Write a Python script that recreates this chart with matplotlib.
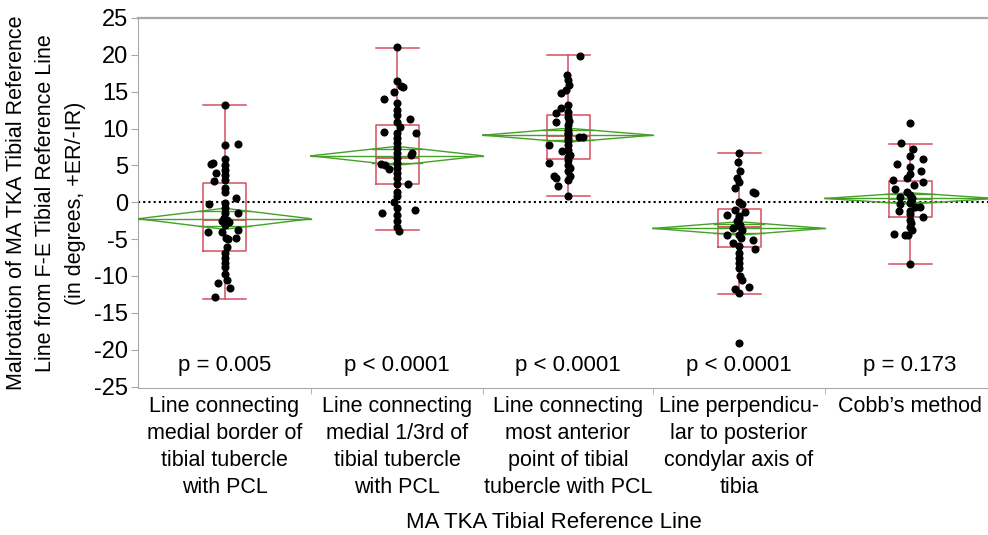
import matplotlib
matplotlib.use('Agg')
import matplotlib.pyplot as plt

plt.rcParams['font.family'] = ['Liberation Sans', 'DejaVu Sans']
plt.rcParams['axes.unicode_minus'] = False

# group labels along the x axis
groups = ["Line connecting\nmedial border of\ntibial tubercle\nwith PCL",
          "Line connecting\nmedial 1/3rd of\ntibial tubercle\nwith PCL",
          "Line connecting\nmost anterior\npoint of tibial\ntubercle with PCL",
          "Line perpendicu-\nlar to posterior\ncondylar axis of\ntibia",
          "Cobb\u2019s method"]
p_text = ["p = 0.005", "p < 0.0001", "p < 0.0001", "p < 0.0001", "p = 0.173"]

g1_vals = [13.2, 7.8, 7.9, 5.85, 5.2, 5.3, 5.1, 4.4, 3.95, 3.7, 2.9, 3.05, 1.9, 1.4, 0.55,
           -0.2, -0.1, -0.8, -1.4, -1.5, -2.2, -2.4, -2.6, -2.7, -3.05, -3.7, -4.0, -4.1,
           -4.8, -4.9, -4.95, -6.1, -6.9, -7.6, -8.2, -8.8, -9.8, -10.5, -10.9, -11.7, -12.9]
g1_dx = [0, 0, 13, 0, -14, -12, 0, 0, -9, 0, -11, 0, 0, 0, 11, -16, 0, 0, 13, 0, -1, 2, -3,
         4, 0, 13, -17, -3, 1, 11, 3, 2, 0, 0, 0, 0, 0, 2, -7, 5, -10]
g2_vals = [21.0, 16.5, 15.8, 15.6, 14.9, 14.0, 13.5, 12.5, 11.85, 11.3, 10.95, 10.2, 9.6, 9.4,
           9.45, 8.7, 8.0, 7.3, 6.65, 6.7, 6.45, 6.0, 5.2, 5.0, 4.5, 5.3, 4.6, 3.95, 3.3, 2.45,
           2.45, 1.45, 0.8, 0.1, -1.45, -1.0, -0.8, -1.7, -2.6, -3.3, -3.85]
g2_dx = [0, 0, 4, 6, -3, -13, 0, 0, 0, 13, 0, 3, -13, 19, 0, 0, 0, 0, 0, 15, 14, 0, -16, -12,
         -8, 0, 0, 0, 0, 0, 11, 0, 0, -3, -15, 18, 0, 0, 0, 0, 2]
g3_vals = [19.9, 17.2, 16.6, 15.9, 15.25, 14.8, 13.2, 12.85, 12.1, 12.3, 11.6, 11.0, 10.85,
           10.5, 9.8, 9.4, 9.2, 8.9, 8.9, 8.7, 8.3, 7.8, 7.8, 7.1, 6.9, 6.4, 6.1, 5.75, 5.3,
           5.1, 4.6, 4.2, 3.6, 3.3, 3.5, 3.05, 2.15, 0.8]
g3_dx = [12, -1, 0, 1, -2, -7, 0, -7, -12, 0, 0, 1, -12, 0, 0, 0, 0, 11, 15, 0, 0, -19, 0, 0,
         -6, 2, 0, 0, -19, 0, 2, 0, -14, -12, 2, 0, -10, 0]
g4_vals = [6.7, 5.4, 4.2, 3.3, 2.8, 1.9, 1.45, 1.3, 0.1, -0.2, -1.0, -1.3, -1.7, -1.9, -2.2,
           -2.6, -3.05, -3.2, -3.5, -3.7, -4.4, -4.4, -4.8, -5.1, -5.5, -6.0, -6.4, -6.9, -7.5,
           -8.2, -8.9, -10.05, -10.5, -11.75, -11.5, -12.3, -19.1]
g4_dx = [0, -1, 1, -2, 0, -4, 14, 16, 0, 3, -4, 6, -12, 0, 0, -2, 1, 0, -6, 3, -12, 0, 2, 14,
         -6, 0, 16, 0, 0, 0, 0, 1, 3, -4, 10, 0, 0]
g5_vals = [10.8, 8.0, 7.2, 6.3, 5.85, 5.2, 4.85, 4.3, 3.85, 3.3, 2.8, 3.05, 2.35, 1.8, 1.45,
           1.0, 0.65, 0.55, 0.2, -0.1, -0.2, -0.65, -1.15, -1.15, -0.65, -1.6, -2.0, -2.4,
           -2.8, -3.3, -3.7, -4.35, -4.4, -4.4, -8.4]
g5_dx = [0, -9, 3, 0, 13, -13, 0, 11, 0, -3, 13, -17, 4, -15, -3, 0, -10, 2, 1, 0, -10, 10,
         -11, 0, 5, 0, 13, 0, 1, 0, 2, -16, -5, -2, 0]

# box plot statistics (whisker low, Q1, median, Q3, whisker high)
whis_lo = [-13.1, -3.82, 0.84, -12.4, -8.37]
q1 = [-6.61, 2.46, 5.89, -6.07, -1.96]
med = [-2.41, 6.03, 9.0, -3.36, 0.43]
q3 = [2.55, 10.45, 11.9, -0.88, 2.87]
whis_hi = [13.2, 20.98, 19.94, 6.7, 7.97]

# means diamonds: mean and 95% CI half width
means = [-2.24, 6.3, 9.1, -3.55, 0.52]
ci_hw = [1.43, 1.29, 0.95, 0.91, 0.77]

vals = [g1_vals, g2_vals, g3_vals, g4_vals, g5_vals]
dxs = [g1_dx, g2_dx, g3_dx, g4_dx, g5_dx]

widths = [173, 172, 170, 172, 170]
edges = [0]
for w in widths:
    edges.append(edges[-1] + w)
centers = [(edges[i] + edges[i + 1]) / 2 for i in range(len(widths))]

box_c = '#d4505f'
dia_c = '#45a028'
gray = '#a8a8a8'

fig = plt.figure(figsize=(9.88, 5.35), dpi=100)
ax = fig.add_axes([138 / 988, 147 / 535, 850 / 988, 370 / 535])

ax.axhline(0, color='black', ls=(0, (1, 1.5)), lw=1.5, zorder=1)

stats = []
for i in range(5):
    stats.append(dict(whislo=whis_lo[i], q1=q1[i], med=med[i], q3=q3[i],
                      whishi=whis_hi[i], fliers=[]))
ax.bxp(stats, positions=centers, widths=43, showfliers=False, manage_ticks=False,
       boxprops=dict(color=box_c, lw=1.1), medianprops=dict(color=box_c, lw=1.3),
       whiskerprops=dict(color=box_c, lw=1.1), capprops=dict(color=box_c, lw=1.1),
       capwidths=43, zorder=2)

r = 1 - 2 ** -0.5
for i in range(5):
    x0, x1, xc = edges[i], edges[i + 1], centers[i]
    m, h = means[i], ci_hw[i]
    ax.plot([x0, xc, x1, xc, x0], [m, m + h, m, m - h, m], color=dia_c, lw=1.0, zorder=3)
    ax.plot([x0, x1], [m, m], color=dia_c, lw=1.0, zorder=3)
    hw = (x1 - x0) / 2 * r
    for s in (1, -1):
        ax.plot([xc - hw, xc + hw], [m + s * h / 2 ** 0.5] * 2, color=dia_c, lw=1.0, zorder=3)

for i in range(5):
    xs = [centers[i] + d for d in dxs[i]]
    ax.scatter(xs, vals[i], s=34, color='black', zorder=4, linewidths=0)

for i in range(5):
    ax.text(centers[i], -22.1, p_text[i], ha='center', va='center', fontsize=16)

ax.set_xlim(0, 850)
ax.set_ylim(-25.2, 25)
ax.set_yticks(range(-25, 26, 5))
ax.tick_params(axis='y', labelsize=17, length=5, color=gray, pad=2)

ax.set_xticks(centers)
ax.set_xticklabels(groups, fontsize=15.5, linespacing=1.36, va='top')
ax.tick_params(axis='x', length=0, pad=6)
ax.set_xticks(edges[1:-1], minor=True)
ax.tick_params(axis='x', which='minor', length=4, color=gray)

for side in ('left', 'bottom'):
    ax.spines[side].set_color(gray)
ax.spines['top'].set_color(gray)
ax.spines['top'].set_linewidth(1.6)
ax.spines['right'].set_visible(False)

fig.text(46 / 988, 1 - 203 / 535,
         "Malrotation of MA TKA Tibial Reference\nLine from F-E Tibial Reference Line\n(in degrees, +ER/-IR)",
         rotation=90, ha='center', va='center', multialignment='center',
         fontsize=15.5, linespacing=1.5)
fig.text(554 / 988, 1 - 522 / 535, "MA TKA Tibial Reference Line",
         ha='center', va='center', fontsize=16)

fig.savefig('out.png', dpi=100)
